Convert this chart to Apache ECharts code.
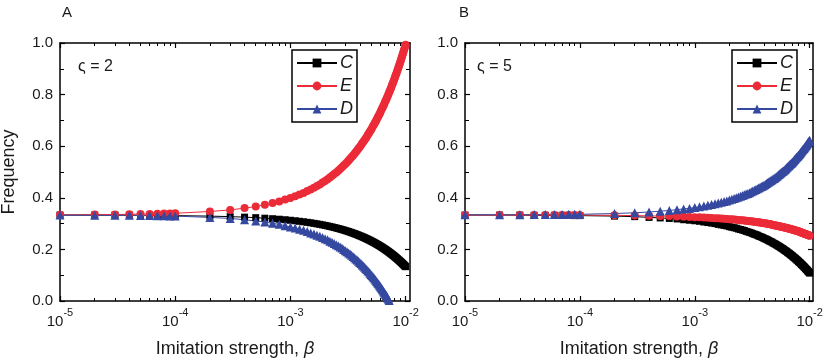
<!DOCTYPE html>
<html>
<head>
<meta charset="utf-8">
<script src="https://cdn.jsdelivr.net/npm/echarts@6.0.0/dist/echarts.min.js"></script>
<style>
  html, body { margin: 0; padding: 0; background: #fff; }
  #chart { width: 830px; height: 360px; }
</style>
</head>
<body>
<div id="chart"></div>
<script>
// imitation strength beta (sampling grid)
var beta = [
  1e-5, 2e-5, 3e-5, 4e-5, 5e-5, 6e-5, 7e-5, 8e-5, 9e-5,
  1e-4, 2e-4, 3e-4, 4e-4, 5e-4, 6e-4, 7e-4, 8e-4, 9e-4, 10e-4,
  11e-4, 12e-4, 13e-4, 14e-4, 15e-4, 16e-4, 17e-4, 18e-4, 19e-4, 20e-4,
  21e-4, 22e-4, 23e-4, 24e-4, 25e-4, 26e-4, 27e-4, 28e-4, 29e-4, 30e-4,
  31e-4, 32e-4, 33e-4, 34e-4, 35e-4, 36e-4, 37e-4, 38e-4, 39e-4, 40e-4,
  41e-4, 42e-4, 43e-4, 44e-4, 45e-4, 46e-4, 47e-4, 48e-4, 49e-4, 50e-4,
  51e-4, 52e-4, 53e-4, 54e-4, 55e-4, 56e-4, 57e-4, 58e-4, 59e-4, 60e-4,
  61e-4, 62e-4, 63e-4, 64e-4, 65e-4, 66e-4, 67e-4, 68e-4, 69e-4, 70e-4,
  71e-4, 72e-4, 73e-4, 74e-4, 75e-4, 76e-4, 77e-4, 78e-4, 79e-4, 80e-4,
  81e-4, 82e-4, 83e-4, 84e-4, 85e-4, 86e-4, 87e-4, 88e-4, 89e-4, 90e-4,
  91e-4, 92e-4, 93e-4, 94e-4, 95e-4, 96e-4, 97e-4, 98e-4, 99e-4, 100e-4
];

// panel A, zeta = 2
var cA = [
  0.333, 0.333, 0.333, 0.333, 0.332, 0.332, 0.332, 0.332, 0.332,
  0.331, 0.329, 0.327, 0.325, 0.323, 0.321, 0.319, 0.317, 0.315, 0.313,
  0.311, 0.309, 0.307, 0.305, 0.303, 0.301, 0.299, 0.297, 0.295, 0.293,
  0.291, 0.289, 0.287, 0.285, 0.283, 0.281, 0.279, 0.277, 0.275, 0.273,
  0.271, 0.269, 0.267, 0.265, 0.263, 0.261, 0.259, 0.257, 0.255, 0.253,
  0.251, 0.249, 0.247, 0.245, 0.243, 0.241, 0.239, 0.237, 0.235, 0.233,
  0.231, 0.229, 0.227, 0.225, 0.223, 0.221, 0.219, 0.217, 0.215, 0.213,
  0.211, 0.209, 0.207, 0.205, 0.203, 0.201, 0.199, 0.197, 0.195, 0.193,
  0.191, 0.189, 0.187, 0.185, 0.183, 0.181, 0.179, 0.177, 0.175, 0.173,
  0.171, 0.169, 0.167, 0.165, 0.163, 0.161, 0.159, 0.157, 0.155, 0.153,
  0.151, 0.149, 0.147, 0.145, 0.143, 0.141, 0.139, 0.137, 0.135, 0.133
];
var eA = [
  0.334, 0.335, 0.335, 0.336, 0.337, 0.337, 0.338, 0.339, 0.339,
  0.340, 0.347, 0.353, 0.360, 0.366, 0.373, 0.380, 0.386, 0.393, 0.399,
  0.406, 0.413, 0.419, 0.426, 0.432, 0.439, 0.446, 0.452, 0.459, 0.465,
  0.472, 0.479, 0.485, 0.492, 0.498, 0.505, 0.512, 0.518, 0.525, 0.531,
  0.538, 0.545, 0.551, 0.558, 0.564, 0.571, 0.578, 0.584, 0.591, 0.597,
  0.604, 0.611, 0.617, 0.624, 0.630, 0.637, 0.644, 0.650, 0.657, 0.663,
  0.670, 0.677, 0.683, 0.690, 0.696, 0.703, 0.710, 0.716, 0.723, 0.729,
  0.736, 0.743, 0.749, 0.756, 0.762, 0.769, 0.776, 0.782, 0.789, 0.795,
  0.802, 0.809, 0.815, 0.822, 0.828, 0.835, 0.842, 0.848, 0.855, 0.861,
  0.868, 0.875, 0.881, 0.888, 0.894, 0.901, 0.908, 0.914, 0.921, 0.927,
  0.934, 0.941, 0.947, 0.954, 0.960, 0.967, 0.974, 0.980, 0.987, 0.993
];
var dA = [
  0.333, 0.332, 0.332, 0.332, 0.331, 0.331, 0.330, 0.330, 0.329,
  0.329, 0.324, 0.320, 0.315, 0.310, 0.306, 0.301, 0.297, 0.292, 0.287,
  0.283, 0.278, 0.274, 0.269, 0.264, 0.260, 0.255, 0.251, 0.246, 0.241,
  0.237, 0.232, 0.228, 0.223, 0.218, 0.214, 0.209, 0.205, 0.200, 0.195,
  0.191, 0.186, 0.182, 0.177, 0.172, 0.168, 0.163, 0.159, 0.154, 0.149,
  0.145, 0.140, 0.136, 0.131, 0.126, 0.122, 0.117, 0.113, 0.108, 0.103,
  0.099, 0.094, 0.090, 0.085, 0.080, 0.076, 0.071, 0.067, 0.062, 0.057,
  0.053, 0.048, 0.044, 0.039, 0.034, 0.030, 0.025, 0.021, 0.016, 0.011,
  0.007, 0.002, -0.002, -0.007, -0.012, -0.016, -0.021, -0.025, -0.030, -0.035,
  -0.039, -0.044, -0.048, -0.053, -0.058, -0.062, -0.067, -0.071, -0.076, -0.081,
  -0.085, -0.090, -0.094, -0.099, -0.104, -0.108, -0.113, -0.117, -0.122, -0.127
];

// panel B, zeta = 5
var cB = [
  0.333, 0.333, 0.333, 0.332, 0.332, 0.332, 0.332, 0.332, 0.331,
  0.331, 0.329, 0.327, 0.324, 0.322, 0.320, 0.318, 0.315, 0.313, 0.311,
  0.309, 0.306, 0.304, 0.302, 0.300, 0.297, 0.295, 0.293, 0.291, 0.288,
  0.286, 0.284, 0.282, 0.279, 0.277, 0.275, 0.273, 0.270, 0.268, 0.266,
  0.264, 0.261, 0.259, 0.257, 0.255, 0.252, 0.250, 0.248, 0.246, 0.243,
  0.241, 0.239, 0.237, 0.234, 0.232, 0.230, 0.228, 0.225, 0.223, 0.221,
  0.219, 0.216, 0.214, 0.212, 0.210, 0.207, 0.205, 0.203, 0.201, 0.198,
  0.196, 0.194, 0.192, 0.189, 0.187, 0.185, 0.183, 0.180, 0.178, 0.176,
  0.174, 0.171, 0.169, 0.167, 0.165, 0.162, 0.160, 0.158, 0.156, 0.153,
  0.151, 0.149, 0.147, 0.144, 0.142, 0.140, 0.138, 0.135, 0.133, 0.131,
  0.129, 0.126, 0.124, 0.122, 0.120, 0.117, 0.115, 0.113, 0.111, 0.108
];
var eB = [
  0.333, 0.333, 0.333, 0.333, 0.333, 0.333, 0.333, 0.333, 0.333,
  0.333, 0.332, 0.331, 0.330, 0.329, 0.329, 0.328, 0.327, 0.326, 0.325,
  0.325, 0.324, 0.323, 0.322, 0.321, 0.321, 0.320, 0.319, 0.318, 0.317,
  0.317, 0.316, 0.315, 0.314, 0.313, 0.313, 0.312, 0.311, 0.310, 0.309,
  0.309, 0.308, 0.307, 0.306, 0.305, 0.305, 0.304, 0.303, 0.302, 0.301,
  0.301, 0.300, 0.299, 0.298, 0.297, 0.297, 0.296, 0.295, 0.294, 0.293,
  0.293, 0.292, 0.291, 0.290, 0.289, 0.289, 0.288, 0.287, 0.286, 0.285,
  0.285, 0.284, 0.283, 0.282, 0.281, 0.281, 0.280, 0.279, 0.278, 0.277,
  0.277, 0.276, 0.275, 0.274, 0.273, 0.273, 0.272, 0.271, 0.270, 0.269,
  0.269, 0.268, 0.267, 0.266, 0.265, 0.265, 0.264, 0.263, 0.262, 0.261,
  0.261, 0.260, 0.259, 0.258, 0.257, 0.257, 0.256, 0.255, 0.254, 0.253
];
var dB = [
  0.334, 0.334, 0.334, 0.335, 0.335, 0.335, 0.335, 0.336, 0.336,
  0.336, 0.339, 0.342, 0.345, 0.348, 0.351, 0.354, 0.357, 0.359, 0.362,
  0.365, 0.368, 0.371, 0.374, 0.377, 0.380, 0.383, 0.386, 0.388, 0.391,
  0.394, 0.397, 0.400, 0.403, 0.406, 0.409, 0.412, 0.415, 0.417, 0.420,
  0.423, 0.426, 0.429, 0.432, 0.435, 0.438, 0.441, 0.444, 0.446, 0.449,
  0.452, 0.455, 0.458, 0.461, 0.464, 0.467, 0.470, 0.473, 0.475, 0.478,
  0.481, 0.484, 0.487, 0.490, 0.493, 0.496, 0.499, 0.502, 0.504, 0.507,
  0.510, 0.513, 0.516, 0.519, 0.522, 0.525, 0.528, 0.531, 0.533, 0.536,
  0.539, 0.542, 0.545, 0.548, 0.551, 0.554, 0.557, 0.560, 0.562, 0.565,
  0.568, 0.571, 0.574, 0.577, 0.580, 0.583, 0.586, 0.589, 0.591, 0.594,
  0.597, 0.600, 0.603, 0.606, 0.609, 0.612, 0.615, 0.618, 0.620, 0.623
];

var decades = [-5, -4, -3, -2];
var panelLabels = ['A', 'B'];
var zetaLabels = ['ς = 2', 'ς = 5'];

var FONT = '"Liberation Sans", Arial, sans-serif';
var INK = '#1a1a1a';
var colors = { C: '#000000', E: '#ec2b38', D: '#3549a1' };

// tiny stand-in for jQuery's extend, keeps the helpers readable
var $ = { extend: function(target) {
  for (var i = 1; i < arguments.length; i++) {
    var src = arguments[i];
    for (var key in src) target[key] = src[key];
  }
  return target;
} };

var chart = echarts.init(document.getElementById('chart'));

// minor tick positions in log10 space: 2..9 x 10^n
var minorTicks = [];
[-5, -4, -3].forEach(function(d) {
  for (var k = 2; k <= 9; k++) minorTicks.push(d + Math.log10(k));
});

function makeXAxes(gridIndex, logMax) {
  var line = { show: true, onZero: false, lineStyle: { color: '#000', width: 1.5 } };
  var base = { type: 'value', gridIndex: gridIndex, min: -5, max: logMax, splitLine: { show: false } };
  return [
    // the data axis
    { type: 'log', logBase: 10, gridIndex: gridIndex, min: 1e-5, max: Math.pow(10, logMax), show: false },
    $.extend({}, base, {
      position: 'bottom',
      axisLine: line,
      axisTick: { inside: true, length: 5, customValues: decades, lineStyle: { color: '#000', width: 1.2 } },
      axisLabel: {
        customValues: decades, margin: 6, color: INK, fontFamily: FONT,
        formatter: function(v) { return '{b|10}{s|' + Math.round(v) + '}'; },
        rich: {
          b: { fontSize: 15, fontFamily: FONT, color: INK, verticalAlign: 'bottom' },
          s: { fontSize: 11, fontFamily: FONT, color: INK, verticalAlign: 'top', lineHeight: 22 }
        }
      },
      name: '{n|Imitation strength, }{i|β}',
      nameLocation: 'middle',
      nameGap: 39,
      nameTextStyle: {
        rich: {
          n: { fontSize: 18, fontFamily: FONT, color: INK },
          i: { fontSize: 18, fontFamily: FONT, color: INK, fontStyle: 'italic' }
        }
      }
    }),
    $.extend({}, base, {
      position: 'bottom',
      axisLine: { show: false, onZero: false },
      axisTick: { inside: true, length: 3, customValues: minorTicks, lineStyle: { color: '#000', width: 1 } },
      axisLabel: { show: false }
    }),
    $.extend({}, base, {
      position: 'top',
      axisLine: line,
      axisTick: { inside: true, length: 5, customValues: decades, lineStyle: { color: '#000', width: 1.2 } },
      axisLabel: { show: false }
    }),
    $.extend({}, base, {
      position: 'top',
      axisLine: { show: false, onZero: false },
      axisTick: { inside: true, length: 3, customValues: minorTicks, lineStyle: { color: '#000', width: 1 } },
      axisLabel: { show: false }
    })
  ];
}

function makeYAxes(gridIndex, withName) {
  var common = {
    type: 'value', gridIndex: gridIndex, min: 0, max: 1, interval: 0.2,
    splitLine: { show: false },
    axisLine: { show: true, onZero: false, lineStyle: { color: '#000', width: 1.5 } },
    axisTick: { inside: true, length: 5, lineStyle: { color: '#000', width: 1.2 } },
    minorTick: { show: true, splitNumber: 2, length: 4, lineStyle: { color: '#000', width: 1 } }
  };
  var left = $.extend({}, common, {
    position: 'left',
    axisLabel: {
      margin: 7, fontSize: 15, fontFamily: FONT, color: INK,
      formatter: function(v) { return v.toFixed(1); }
    }
  });
  if (withName) {
    left.name = 'Frequency';
    left.nameLocation = 'middle';
    left.nameGap = 42;
    left.nameTextStyle = { fontSize: 18, fontFamily: FONT, color: INK };
  }
  var right = $.extend({}, common, { position: 'right', axisLabel: { show: false } });
  return [left, right];
}

function pairs(values) {
  return beta.map(function(b, i) { return [b, values[i]]; });
}

function makeSeries(name, values, xIndex, yIndex, symbol, size) {
  return {
    name: name,
    type: 'line',
    xAxisIndex: xIndex,
    yAxisIndex: yIndex,
    data: pairs(values),
    symbol: symbol,
    symbolSize: size,
    showAllSymbol: true,
    clip: true,
    itemStyle: { color: colors[name] },
    lineStyle: { color: colors[name], width: 1 }
  };
}

function makeLegend(left) {
  return {
    orient: 'vertical',
    left: left,
    top: 50,
    padding: [4, 4, 4, 4],
    itemGap: 5,
    itemWidth: 40,
    itemHeight: 11,
    borderColor: '#000',
    borderWidth: 1.5,
    backgroundColor: '#fff',
    data: ['C', 'E', 'D'],
    textStyle: { fontSize: 18, fontStyle: 'italic', fontFamily: FONT, color: INK, padding: [0, 0, 0, -2] }
  };
}

function buildOption() {
  var xAxes = makeXAxes(0, -1.962).concat(makeXAxes(1, -1.971));
  var yAxes = makeYAxes(0, true).concat(makeYAxes(1, false));

  return {
    animation: false,
    backgroundColor: '#fff',
    grid: [
      { left: 60, right: 420, top: 43, bottom: 59, outerBoundsMode: 'none', containLabel: false },
      { left: 465, right: 17, top: 43, bottom: 59, outerBoundsMode: 'none', containLabel: false }
    ],
    xAxis: xAxes,
    yAxis: yAxes,
    legend: [makeLegend(292), makeLegend(732)],
    series: [
      makeSeries('C', cA, 0, 0, 'rect', 7),
      makeSeries('E', eA, 0, 0, 'circle', 8),
      makeSeries('D', dA, 0, 0, 'triangle', 9),
      makeSeries('C', cB, 5, 2, 'rect', 7),
      makeSeries('E', eB, 5, 2, 'circle', 8),
      makeSeries('D', dB, 5, 2, 'triangle', 9)
    ],
    graphic: [
      { type: 'text', left: 62, top: 5, style: { text: panelLabels[0], fontSize: 15, fontFamily: FONT, fill: INK } },
      { type: 'text', left: 459, top: 5, style: { text: panelLabels[1], fontSize: 15, fontFamily: FONT, fill: INK } },
      { type: 'text', left: 78, top: 59, style: { text: zetaLabels[0], fontSize: 16, fontFamily: FONT, fill: INK } },
      { type: 'text', left: 477, top: 59, style: { text: zetaLabels[1], fontSize: 16, fontFamily: FONT, fill: INK } }
    ]
  };
}

chart.setOption(buildOption());
</script>
</body>
</html>
